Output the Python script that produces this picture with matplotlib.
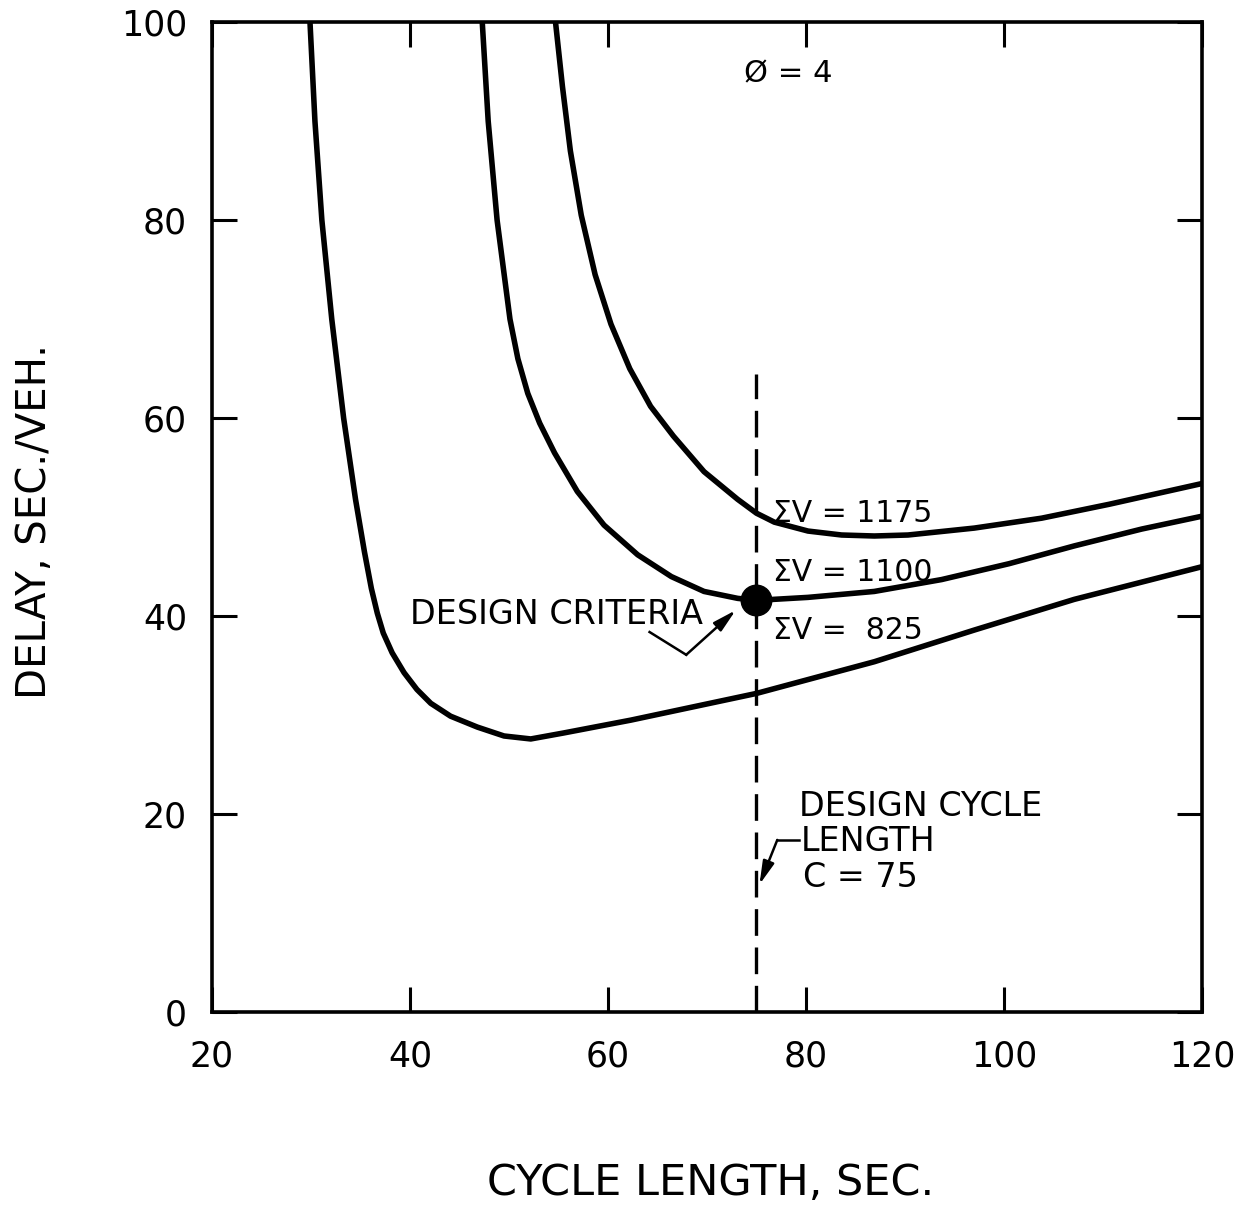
"""
    Delay vs cycle length chart, phi = 4, three sum-V curves
"""
import matplotlib
matplotlib.use("Agg")
from matplotlib import pyplot as plt

# curves: cycle length (s) -> delay (s/veh)
cycle_825 = [29.9, 30.4, 31.1, 32.1, 33.3, 34.5, 35.4, 36.1, 36.7, 37.3, 38.2, 39.4, 40.7,
             42.1, 44.1, 46.8, 49.5, 52.2, 55.5, 62.3, 75.0, 86.9, 97.0, 107.1, 120.0]
delay_825 = [100.0, 90.0, 80.0, 70.0, 60.0, 51.8, 46.5, 42.8, 40.3, 38.3, 36.3, 34.3, 32.6,
             31.2, 29.9, 28.8, 27.9, 27.6, 28.2, 29.5, 32.2, 35.4, 38.6, 41.7, 45.0]

cycle_1100 = [47.3, 47.9, 48.8, 50.1, 50.9, 51.9, 53.1, 54.6, 56.9, 59.6, 63.0, 66.4, 69.7,
              73.1, 75.0, 80.2, 86.9, 93.7, 100.5, 107.1, 113.9, 120.0]
delay_1100 = [100.0, 90.0, 80.0, 70.0, 66.0, 62.5, 59.5, 56.5, 52.6, 49.2, 46.2, 44.0, 42.5,
              41.8, 41.6, 41.9, 42.5, 43.7, 45.3, 47.1, 48.8, 50.1]

cycle_1175 = [54.7, 55.4, 56.2, 57.3, 58.7, 60.3, 62.2, 64.3, 66.6, 69.7, 73.1, 75.0, 76.8,
              80.2, 83.6, 86.9, 90.3, 97.0, 103.8, 110.6, 120.0]
delay_1175 = [100.0, 93.5, 87.0, 80.5, 74.5, 69.5, 65.0, 61.2, 58.2, 54.6, 51.8, 50.4, 49.5,
              48.6, 48.2, 48.1, 48.2, 48.9, 49.9, 51.3, 53.4]

curve_labels = ["\u03a3V = 1175", "\u03a3V = 1100", "\u03a3V =  825"]
label_y = [50.4, 44.4, 38.6]

design_cycle = 75
design_delay = 41.6
dash_top = 64.5

x_ticks = [20, 40, 60, 80, 100, 120]
y_ticks = [0, 20, 40, 60, 80, 100]

plt.rcParams['font.family'] = ['DejaVu Sans']

fig = plt.figure(figsize=(12.58, 12.05), dpi=100)
ax = fig.add_axes([0.1685, 0.160, 0.787, 0.8216])

lw = 4.0
ax.plot(cycle_825, delay_825, color='black', lw=lw, solid_capstyle='butt', solid_joinstyle='round')
ax.plot(cycle_1100, delay_1100, color='black', lw=lw, solid_capstyle='butt', solid_joinstyle='round')
ax.plot(cycle_1175, delay_1175, color='black', lw=lw, solid_capstyle='butt', solid_joinstyle='round')

# design cycle length line
ax.plot([design_cycle, design_cycle], [0, dash_top], color='black', lw=2.4,
        linestyle=(0, (8, 3.5)))
ax.plot(design_cycle, design_delay, 'o', color='black', markersize=22)

for txt, yy in zip(curve_labels, label_y):
    ax.text(76.7, yy, txt, fontsize=21.5, va='center', ha='left')

ax.text(78.2, 94.8, "\u00d8 = 4", fontsize=22, va='center', ha='center')

# design criteria annotation
arrow = dict(arrowstyle='-|>,head_length=1.4,head_width=0.35',
             color='black', lw=1.8, shrinkA=0, shrinkB=0)
ax.text(40.0, 40.2, "DESIGN CRITERIA", fontsize=24, va='center', ha='left')
ax.plot([64.2, 67.9], [38.4, 36.1], color='black', lw=1.8)
ax.annotate("", xy=(72.9, 40.6), xytext=(67.9, 36.1), arrowprops=arrow)

# design cycle length annotation
ax.text(79.3, 20.8, "DESIGN CYCLE", fontsize=24, va='center', ha='left')
ax.text(79.5, 17.2, "LENGTH", fontsize=24, va='center', ha='left')
ax.text(79.7, 13.6, "C = 75", fontsize=24, va='center', ha='left')
ax.plot([79.3, 77.1], [17.4, 17.4], color='black', lw=1.8)
ax.annotate("", xy=(75.3, 12.9), xytext=(77.1, 17.4), arrowprops=arrow)

ax.set_xlim(20, 120)
ax.set_ylim(0, 100)
ax.set_xticks(x_ticks)
ax.set_yticks(y_ticks)
ax.tick_params(direction='in', length=18, width=2.2, top=True, right=True,
               labelsize=25)
ax.tick_params(axis='x', pad=20)
ax.tick_params(axis='y', pad=18)
for s in ax.spines.values():
    s.set_linewidth(2.6)

fig.text(0.565, 0.018, "CYCLE LENGTH, SEC.", fontsize=31, ha='center', va='center')
fig.text(0.028, 0.567, "DELAY, SEC./VEH.", fontsize=29, ha='center', va='center',
         rotation=90)

fig.savefig("out.png", dpi=100)
